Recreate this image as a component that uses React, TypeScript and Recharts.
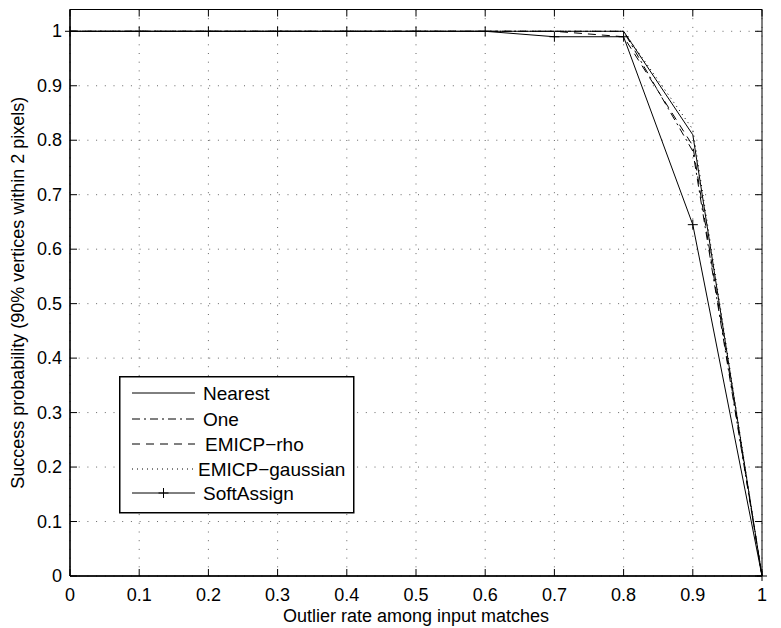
import React from 'react';
import { LineChart, Line, XAxis, YAxis, CartesianGrid, ReferenceArea } from 'recharts';

const outlierRates = [0, 0.1, 0.2, 0.3, 0.4, 0.5, 0.6, 0.7, 0.8, 0.9, 1];
const nearest = [1, 1, 1, 1, 1, 1, 1, 1, 1, 0.81, 0];
const one = [1, 1, 1, 1, 1, 1, 1, 1, 1, 0.78, 0];
const emicpRho = [1, 1, 1, 1, 1, 1, 1, 1, 0.99, 0.79, 0];
const emicpGaussian = [1, 1, 1, 1, 1, 1, 1, 1, 1, 0.82, 0];
const softAssign = [1, 1, 1, 1, 1, 1, 1, 0.99, 0.99, 0.645, 0];

const xTicks = [0, 0.1, 0.2, 0.3, 0.4, 0.5, 0.6, 0.7, 0.8, 0.9, 1];
const yTicks = [0, 0.1, 0.2, 0.3, 0.4, 0.5, 0.6, 0.7, 0.8, 0.9, 1];

const seriesNames = ['Nearest', 'One', 'EMICP\u2212rho', 'EMICP\u2212gaussian', 'SoftAssign'];

const data = outlierRates.map((x, i) => ({
  x,
  nearest: nearest[i],
  one: one[i],
  rho: emicpRho[i],
  gauss: emicpGaussian[i],
  soft: softAssign[i],
}));

const W = 781;
const H = 628;
const LEFT = 70;
const RIGHT = 762;
const TOP = 9.5;
const BOTTOM = 576;
const Y_AXIS_W = 60;
const X_AXIS_H = 40;
const FONT = '"Liberation Sans", Arial, Helvetica, sans-serif';
const TICK = 7;
const FS = 18;
const LFS = 18;
const LEG_FS = 19;

const fmt = (v: number) => (Math.round(v * 10) / 10).toString();

const XTick = (props: any) => {
  const { x, payload } = props;
  return (
    <g>
      <line x1={x} x2={x} y1={BOTTOM} y2={BOTTOM - TICK} stroke="#000" strokeWidth={1} />
      <line x1={x} x2={x} y1={TOP} y2={TOP + TICK} stroke="#000" strokeWidth={1} />
      <text x={x} y={BOTTOM + 19} textAnchor="middle" dominantBaseline="central" fontSize={FS} fontFamily={FONT} fill="#000">
        {fmt(payload.value)}
      </text>
    </g>
  );
};

const YTick = (props: any) => {
  const { y, payload } = props;
  return (
    <g>
      <line x1={LEFT} x2={LEFT + TICK} y1={y} y2={y} stroke="#000" strokeWidth={1} />
      <line x1={RIGHT} x2={RIGHT - TICK} y1={y} y2={y} stroke="#000" strokeWidth={1} />
      <text x={LEFT - 8} y={y} textAnchor="end" dominantBaseline="central" fontSize={FS} fontFamily={FONT} fill="#000">
        {fmt(payload.value)}
      </text>
    </g>
  );
};

const PlusDot = (props: any) => {
  const { cx, cy, index } = props;
  if (cx == null || cy == null) return <g key={`p${index}`} />;
  return (
    <path key={`p${index}`} d={`M${cx - 5},${cy}h10M${cx},${cy - 5}v10`} stroke="#000" strokeWidth={1} fill="none" />
  );
};

const dashes = ['', '8 4 2 4', '8 6', '1 4', ''];

const LegendBox = () => {
  const rowY = [17, 43, 68, 93, 117];
  const textX = [84, 84, 86, 79, 84];
  return (
    <svg width={236} height={138} style={{ display: 'block', overflow: 'visible' }}>
      <rect x={0.75} y={0.75} width={234} height={136} fill="#fff" stroke="#000" strokeWidth={1.5} />
      {seriesNames.map((name, i) => (
        <g key={name}>
          <line x1={13} x2={i === 3 ? 78 : 76} y1={rowY[i]} y2={rowY[i]} stroke="#000" strokeWidth={1} strokeDasharray={dashes[i] || undefined} />
          {i === 4 && (
            <path d={`M${44.5 - 5},${rowY[i]}h10M44.5,${rowY[i] - 5}v10`} stroke="#000" strokeWidth={1} />
          )}
          <text x={textX[i]} y={rowY[i]} dominantBaseline="central" fontSize={LEG_FS} fontFamily={FONT} fill="#000">
            {name}
          </text>
        </g>
      ))}
    </svg>
  );
};

export default function App() {
  return (
    <div style={{ position: 'absolute', left: 0, top: 0, width: W, height: H, background: '#fff' }}>
      <LineChart
        width={W}
        height={H}
        data={data}
        margin={{ top: TOP, right: W - RIGHT, bottom: H - BOTTOM - X_AXIS_H, left: LEFT - Y_AXIS_W }}
      >
        <CartesianGrid
          stroke="#666"
          strokeDasharray="1 7.7"
          horizontalValues={yTicks}
          verticalValues={xTicks}
        />
        <ReferenceArea x1={0} x2={1} y1={0} y2={1.04} fill="none" stroke="#000" strokeWidth={1} ifOverflow="visible" />
        <XAxis
          dataKey="x"
          type="number"
          domain={[0, 1]}
          ticks={xTicks}
          height={X_AXIS_H}
          tickLine={false}
          axisLine={{ stroke: '#000', strokeWidth: 1.3 }}
          tick={XTick}
          interval={0}
          label={{
            content: () => (
              <text x={(LEFT + RIGHT) / 2} y={BOTTOM + 40} textAnchor="middle" dominantBaseline="central" fontSize={LFS} fontFamily={FONT} fill="#000">
                Outlier rate among input matches
              </text>
            ),
          }}
        />
        <YAxis
          type="number"
          domain={[0, 1.04]}
          ticks={yTicks}
          width={Y_AXIS_W}
          tickLine={false}
          axisLine={{ stroke: '#000', strokeWidth: 1.3 }}
          tick={YTick}
          interval={0}
          label={{
            content: () => (
              <text
                x={18}
                y={(TOP + BOTTOM) / 2}
                transform={`rotate(-90 18 ${(TOP + BOTTOM) / 2})`}
                textAnchor="middle"
                dominantBaseline="central"
                fontSize={LFS}
                fontFamily={FONT}
                fill="#000"
              >
                Success probability (90% vertices within 2 pixels)
              </text>
            ),
          }}
        />
        <Line dataKey="nearest" name={seriesNames[0]} stroke="#000" strokeWidth={1} dot={false} isAnimationActive={false} type="linear" />
        <Line dataKey="one" name={seriesNames[1]} stroke="#000" strokeWidth={1} strokeDasharray={dashes[1]} dot={false} isAnimationActive={false} type="linear" />
        <Line dataKey="rho" name={seriesNames[2]} stroke="#000" strokeWidth={1} strokeDasharray={dashes[2]} dot={false} isAnimationActive={false} type="linear" />
        <Line dataKey="gauss" name={seriesNames[3]} stroke="#000" strokeWidth={1} strokeDasharray={dashes[3]} dot={false} isAnimationActive={false} type="linear" />
        <Line dataKey="soft" name={seriesNames[4]} stroke="#000" strokeWidth={1} dot={<PlusDot />} isAnimationActive={false} type="linear" />
      </LineChart>
      <div style={{ position: 'absolute', left: 119, top: 376 }}>
        <LegendBox />
      </div>
    </div>
  );
}
